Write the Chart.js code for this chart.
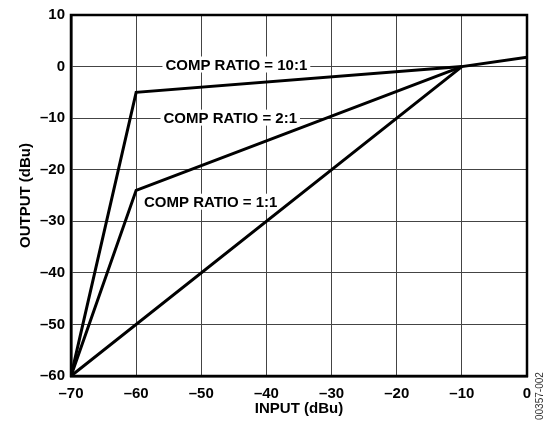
<!DOCTYPE html>
<html>
<head>
<meta charset="utf-8">
<script src="https://cdn.jsdelivr.net/npm/chart.js@4.4.1/dist/chart.umd.min.js"></script>
<style>
    html, body { margin: 0; padding: 0; background: #fff; }
    #wrap { width: 543px; height: 423px; }
</style>
</head>
<body>
<div id="wrap"><canvas id="compChart" width="543" height="423"></canvas></div>
<script>
// Transfer curves (input dBu -> output dBu)
const ratio1In = [-70, -10, 0];
const ratio1Out = [-60, 0, 1.8];
const ratio2In = [-70, -60, -10];
const ratio2Out = [-60, -24, 0];
const ratio10In = [-70, -60, -10];
const ratio10Out = [-60, -5, 0];

// Tick labels
const xTickLabels = ["\u201370", "\u201360", "\u201350", "\u201340", "\u201330", "\u201320", "\u201310", "0"];
const yTickLabels = ["\u201360", "\u201350", "\u201340", "\u201330", "\u201320", "\u201310", "0", "10"];

// Curve annotations: text, left edge (input), centre (output)
const noteTexts = ["COMP RATIO = 10:1", "COMP RATIO = 2:1", "COMP RATIO = 1:1"];
const noteX = [-55.5, -55.8, -58.8];
const noteY = [0.4, -9.9, -26.2];

const FONT = "'Liberation Sans', Arial, Helvetica, sans-serif";

function toPoints(xs, ys) {
    return xs.map((x, i) => ({x: x, y: ys[i]}));
}

// Draws the ratio labels on a white box, under the lines; frame + figure id on top
const notesPlugin = {
    id: "notes",
    beforeDatasetsDraw(chart) {
        const {ctx, scales: {x, y}} = chart;
        ctx.save();
        ctx.font = "bold 15px " + FONT;
        ctx.textBaseline = "middle";
        ctx.textAlign = "left";
        noteTexts.forEach((t, i) => {
            const px = x.getPixelForValue(noteX[i]);
            const py = y.getPixelForValue(noteY[i]);
            const w = ctx.measureText(t).width;
            ctx.fillStyle = "#fff";
            ctx.fillRect(px - 3, py - 8, w + 6, 16);
            ctx.fillStyle = "#000";
            ctx.fillText(t, px, py + 1);
        });
        ctx.restore();
    },
    afterDraw(chart) {
        const {ctx, chartArea: a} = chart;
        ctx.save();
        ctx.strokeStyle = "#000";
        ctx.lineWidth = 2.5;
        ctx.strokeRect(a.left, a.top, a.right - a.left, a.bottom - a.top);

        ctx.translate(540, 420);
        ctx.rotate(-Math.PI / 2);
        ctx.font = "10px " + FONT;
        ctx.fillStyle = "#333";
        ctx.textBaseline = "middle";
        ctx.textAlign = "left";
        ctx.fillText("00357-002", 0, 0);
        ctx.restore();
    }
};

const lineStyle = {
    showLine: true,
    borderColor: "#000",
    borderWidth: 3,
    pointRadius: 0,
    fill: false,
    tension: 0
};

new Chart(document.getElementById("compChart").getContext("2d"), {
    type: "scatter",
    data: {
        datasets: [
            Object.assign({label: "1:1", data: toPoints(ratio1In, ratio1Out)}, lineStyle),
            Object.assign({label: "2:1", data: toPoints(ratio2In, ratio2Out)}, lineStyle),
            Object.assign({label: "10:1", data: toPoints(ratio10In, ratio10Out)}, lineStyle)
        ]
    },
    options: {
        responsive: false,
        animation: false,
        layout: {padding: {left: 0, right: 16, top: 13, bottom: 0}},
        plugins: {
            legend: {display: false},
            tooltip: {enabled: false}
        },
        scales: {
            x: {
                type: "linear",
                min: -70,
                max: 0,
                afterFit: (s) => { s.height = 47; },
                ticks: {
                    stepSize: 10,
                    padding: 9,
                    maxRotation: 0,
                    color: "#000",
                    font: {family: FONT, size: 15, weight: "bold"},
                    callback: (v) => xTickLabels[Math.round((v + 70) / 10)]
                },
                grid: {color: "#444", lineWidth: 1, drawTicks: false},
                border: {color: "#000", width: 2.5},
                title: {
                    display: true,
                    text: "INPUT (dBu)",
                    color: "#000",
                    font: {family: FONT, size: 15, weight: "bold"},
                    padding: {top: 0, bottom: 5}
                }
            },
            y: {
                type: "linear",
                min: -60,
                max: 10,
                afterFit: (s) => { s.width = 71; },
                ticks: {
                    stepSize: 10,
                    padding: 6,
                    color: "#000",
                    font: {family: FONT, size: 15, weight: "bold"},
                    callback: (v) => yTickLabels[Math.round((v + 60) / 10)]
                },
                grid: {color: "#444", lineWidth: 1, drawTicks: false},
                border: {color: "#000", width: 2.5},
                title: {
                    display: true,
                    text: "OUTPUT (dBu)",
                    color: "#000",
                    font: {family: FONT, size: 15, weight: "bold"},
                    padding: {top: 17, bottom: 0}
                }
            }
        }
    },
    plugins: [notesPlugin]
});
</script>
</body>
</html>
